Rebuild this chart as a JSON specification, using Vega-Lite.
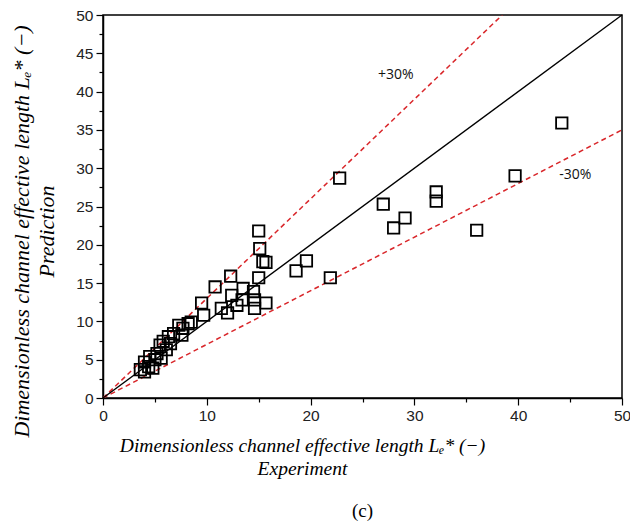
{
  "$schema": "https://vega.github.io/schema/vega-lite/v6.json",
  "width": 519,
  "height": 383,
  "autosize": {"type": "none"},
  "padding": {"left": 103, "top": 15, "right": 8, "bottom": 130},
  "background": "white",
  "title": {"text": "(c)", "orient": "bottom", "font": "Liberation Serif", "fontSize": 19, "fontWeight": "normal", "color": "#000", "offset": 24, "anchor": "middle"},
  "config": {
    "view": {"stroke": "#000", "strokeWidth": 1.5},
    "axis": {"domainColor": "#000", "domainWidth": 1.5, "tickColor": "#000", "tickWidth": 1.2, "grid": false, "labelFont": "Liberation Sans", "labelFontSize": 15.5, "labelColor": "#222", "labelOverlap": false, "labelFlush": false, "titleFont": "Liberation Serif", "titleFontStyle": "italic", "titleFontWeight": "normal", "titleColor": "#000"}
  },
  "datasets": {
    "pts": [
      {"exp": 44.2, "pred": 35.9}, {"exp": 39.7, "pred": 29.0}, {"exp": 36.0, "pred": 21.9}, {"exp": 32.1, "pred": 26.9},
      {"exp": 32.1, "pred": 25.7}, {"exp": 29.1, "pred": 23.5}, {"exp": 28.0, "pred": 22.2}, {"exp": 27.0, "pred": 25.3},
      {"exp": 22.8, "pred": 28.7}, {"exp": 21.9, "pred": 15.7}, {"exp": 19.6, "pred": 17.9}, {"exp": 18.6, "pred": 16.6},
      {"exp": 15.0, "pred": 21.8}, {"exp": 15.1, "pred": 19.5}, {"exp": 15.4, "pred": 17.8}, {"exp": 15.7, "pred": 17.7},
      {"exp": 15.0, "pred": 15.7}, {"exp": 12.3, "pred": 15.9}, {"exp": 10.8, "pred": 14.5}, {"exp": 9.5, "pred": 12.4},
      {"exp": 9.7, "pred": 10.8}, {"exp": 12.4, "pred": 13.4}, {"exp": 13.5, "pred": 14.3}, {"exp": 13.4, "pred": 12.8},
      {"exp": 14.5, "pred": 13.9}, {"exp": 14.6, "pred": 12.8}, {"exp": 14.6, "pred": 11.7}, {"exp": 15.7, "pred": 12.4},
      {"exp": 11.4, "pred": 11.7}, {"exp": 12.0, "pred": 11.1}, {"exp": 12.9, "pred": 12.1},
      {"exp": 8.5, "pred": 9.9}, {"exp": 8.2, "pred": 9.7}, {"exp": 7.3, "pred": 9.5}, {"exp": 7.7, "pred": 9.1},
      {"exp": 6.8, "pred": 8.4}, {"exp": 7.6, "pred": 8.2}, {"exp": 6.3, "pred": 8.0}, {"exp": 5.8, "pred": 7.4},
      {"exp": 5.5, "pred": 6.9}, {"exp": 6.1, "pred": 6.3}, {"exp": 5.2, "pred": 5.8}, {"exp": 4.5, "pred": 5.4},
      {"exp": 5.0, "pred": 5.0}, {"exp": 5.6, "pred": 5.2}, {"exp": 4.0, "pred": 4.7}, {"exp": 4.4, "pred": 4.1},
      {"exp": 3.6, "pred": 3.7}, {"exp": 4.0, "pred": 3.4}, {"exp": 4.8, "pred": 3.9}, {"exp": 6.5, "pred": 7.1}
    ],
    "lines": [
      {"line": "ref", "exp": 0, "pred": 0}, {"line": "ref", "exp": 50, "pred": 50},
      {"line": "plus", "exp": 0, "pred": 0}, {"line": "plus", "exp": 38.46, "pred": 50},
      {"line": "minus", "exp": 0, "pred": 0}, {"line": "minus", "exp": 50, "pred": 35}
    ],
    "labels": [
      {"label": "+30%", "exp": 28.2, "pred": 42.2},
      {"label": "-30%", "exp": 45.5, "pred": 29.1}
    ]
  },
  "encoding": {
    "x": {"field": "exp", "type": "quantitative", "scale": {"domain": [0, 50], "nice": false},
      "axis": {"values": [0, 5, 10, 15, 20, 25, 30, 35, 40, 45, 50], "labelExpr": "(datum.value % 10 == 0) ? ('' + datum.value) : ''",
        "labelOverlap": false, "tickSize": {"expr": "datum.value % 10 == 0 ? 7 : 4"}, "labelPadding": 3,
        "title": ["Dimensionless channel effective length L\u2091* (\u2212)", "Experiment"], "titleFontSize": 19.5, "titlePadding": 13, "titleLineHeight": 23, "titleX": 199}},
    "y": {"field": "pred", "type": "quantitative", "scale": {"domain": [0, 50], "nice": false},
      "axis": {"values": [0, 2.5, 5, 7.5, 10, 12.5, 15, 17.5, 20, 22.5, 25, 27.5, 30, 32.5, 35, 37.5, 40, 42.5, 45, 47.5, 50], "labelExpr": "(datum.value % 5 == 0) ? ('' + datum.value) : ''",
        "labelOverlap": false, "tickSize": {"expr": "datum.value % 5 == 0 ? 7 : 4"}, "labelPadding": 3,
        "title": ["Dimensionless channel effective length L\u2091* (\u2212)", "Prediction"], "titleFontSize": 22, "titlePadding": 17, "titleLineHeight": 25, "titleY": 216}}
  },
  "layer": [
    {
      "data": {"name": "lines"},
      "transform": [{"filter": "datum.line !== 'ref'"}],
      "mark": {"type": "line", "color": "#d9262a", "strokeWidth": 1.5, "strokeDash": [5, 3.5], "clip": true},
      "encoding": {"detail": {"field": "line"}}
    },
    {
      "data": {"name": "lines"},
      "transform": [{"filter": "datum.line === 'ref'"}],
      "mark": {"type": "line", "color": "#000", "strokeWidth": 1.4},
      "encoding": {}
    },
    {
      "data": {"name": "pts"},
      "mark": {"type": "point", "shape": "square", "size": 130, "filled": false, "stroke": "#000", "strokeWidth": 1.8, "opacity": 1},
      "encoding": {}
    },
    {
      "data": {"name": "labels"},
      "mark": {"type": "text", "font": "Open Sans", "fontSize": 14, "color": "#111"},
      "encoding": {"text": {"field": "label"}}
    }
  ]
}
